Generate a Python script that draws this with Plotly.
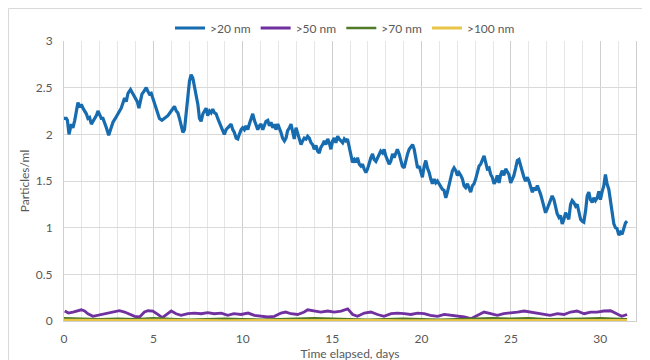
import plotly.graph_objects as go

# ---------------- data ----------------
days_20 = [
    0.00, 0.13, 0.19, 0.28, 0.41, 0.50, 0.60, 0.69, 0.78, 0.88, 0.97, 1.06, 1.15, 1.25, 1.34, 1.43,
    1.53, 1.62, 1.71, 1.81, 1.90, 1.99, 2.09, 2.18, 2.27, 2.37, 2.50, 2.61, 2.74, 2.87, 2.98, 3.11,
    3.20, 3.30, 3.39, 3.48, 3.58, 3.72, 3.85, 3.98, 4.10, 4.19, 4.28, 4.36, 4.47, 4.60, 4.69, 4.78,
    4.88, 4.99, 5.10, 5.21, 5.34, 5.48, 5.62, 5.81, 6.00,
    6.09, 6.18, 6.28, 6.37, 6.46, 6.55, 6.65, 6.74, 6.83, 6.93, 7.02, 7.11, 7.21, 7.30, 7.39, 7.49,
    7.58, 7.67, 7.77, 7.86, 7.95, 8.04, 8.14, 8.23, 8.32, 8.42, 8.51, 8.60, 8.70, 8.79, 8.88, 8.97,
    9.07, 9.16, 9.25, 9.35, 9.44, 9.53, 9.63, 9.72, 9.81, 9.91, 10.00, 10.09, 10.18, 10.28, 10.37,
    10.46, 10.56, 10.65, 10.74, 10.84, 10.93, 11.02, 11.12, 11.21, 11.30, 11.40, 11.49, 11.58, 11.68,
    11.77, 11.86, 11.96, 12.05, 12.14, 12.23, 12.33, 12.42, 12.51,
    12.61, 12.70, 12.79, 12.88, 12.98, 13.07, 13.16, 13.26, 13.35, 13.44, 13.54, 13.63, 13.72, 13.82,
    13.91, 14.00, 14.10, 14.19, 14.28, 14.37, 14.47, 14.56, 14.65, 14.75, 14.84, 14.93, 15.03, 15.12,
    15.21, 15.31, 15.40, 15.49, 15.59, 15.68, 15.77, 15.86, 15.96, 16.05, 16.14, 16.24, 16.33, 16.42,
    16.52, 16.61, 16.70, 16.79, 16.89, 16.98, 17.07, 17.17, 17.26, 17.35, 17.45, 17.54, 17.63, 17.72,
    17.82, 17.91, 18.00, 18.10, 18.19, 18.28, 18.38, 18.47, 18.56, 18.65, 18.75, 18.84, 18.93, 19.03,
    19.12,
    19.22, 19.31, 19.40, 19.50, 19.59, 19.68, 19.78, 19.87, 19.96, 20.05, 20.15, 20.24, 20.33, 20.43,
    20.52, 20.61, 20.71, 20.80, 20.89, 20.98, 21.08, 21.17, 21.26, 21.36, 21.45, 21.54, 21.64, 21.73,
    21.82, 21.92, 22.01, 22.10, 22.20, 22.29, 22.38, 22.47, 22.57, 22.66, 22.75, 22.85, 22.94, 23.03,
    23.13, 23.22, 23.31, 23.40, 23.50, 23.59, 23.68, 23.78, 23.87, 23.96, 24.06, 24.15, 24.24, 24.34,
    24.43, 24.52, 24.61, 24.71, 24.80,
    24.89, 24.99, 25.08, 25.17, 25.27, 25.36, 25.45, 25.54, 25.64, 25.73, 25.82, 25.92, 26.01, 26.10,
    26.20, 26.29, 26.38, 26.48, 26.57, 26.66, 26.76, 26.85, 26.94, 27.03, 27.13, 27.22, 27.31, 27.41,
    27.50, 27.59, 27.69, 27.78, 27.87, 27.97, 28.06, 28.15, 28.24, 28.34, 28.43, 28.52, 28.62, 28.71,
    28.80, 28.90, 28.99, 29.08, 29.18, 29.27, 29.36, 29.45, 29.55, 29.64, 29.73, 29.83, 29.92, 30.01,
    30.11, 30.20, 30.29, 30.38, 30.48, 30.57, 30.66, 30.76, 30.85, 30.94, 31.04, 31.13, 31.22, 31.32,
    31.41, 31.50,
]
vals_20 = [
    2.17, 2.17, 2.15, 2.00, 2.11, 2.07, 2.15, 2.25, 2.34, 2.29, 2.32, 2.28, 2.25, 2.22, 2.17, 2.18,
    2.11, 2.14, 2.18, 2.20, 2.25, 2.20, 2.17, 2.17, 2.13, 2.07, 1.99, 2.05, 2.13, 2.17, 2.20, 2.25,
    2.28, 2.35, 2.39, 2.35, 2.44, 2.48, 2.44, 2.40, 2.35, 2.28, 2.35, 2.43, 2.46, 2.50, 2.46, 2.43,
    2.44, 2.37, 2.32, 2.25, 2.17, 2.15, 2.17, 2.20, 2.25,
    2.28, 2.30, 2.25, 2.23, 2.17, 2.08, 2.02, 2.05, 2.22, 2.46, 2.57, 2.64, 2.60, 2.51, 2.43, 2.32,
    2.17, 2.14, 2.22, 2.25, 2.28, 2.20, 2.25, 2.23, 2.27, 2.23, 2.22, 2.17, 2.13, 2.09, 2.04, 2.00,
    2.05, 2.07, 2.09, 2.11, 2.05, 2.02, 1.96, 1.95, 2.00, 2.05, 2.07, 2.05, 2.09, 2.05, 2.11,
    2.17, 2.22, 2.15, 2.09, 2.05, 2.09, 2.11, 2.05, 2.11, 2.14, 2.15, 2.09, 2.13, 2.07,
    2.11, 2.05, 2.11, 2.07, 2.02, 1.96, 1.93, 1.96, 2.04,
    2.07, 2.11, 2.03, 1.95, 2.07, 2.02, 1.95, 1.89, 1.93, 1.96, 1.95, 1.98, 1.96, 1.91,
    1.89, 1.84, 1.88, 1.82, 1.80, 1.86, 1.89, 1.93, 1.89, 1.95, 1.91, 1.84, 1.93, 1.96,
    1.91, 1.98, 1.95, 1.93, 1.91, 1.95, 1.93, 1.95, 1.86, 1.75, 1.70, 1.73, 1.70, 1.75,
    1.68, 1.66, 1.68, 1.63, 1.59, 1.63, 1.70, 1.75, 1.79, 1.73, 1.71, 1.75, 1.80, 1.82,
    1.80, 1.84, 1.77, 1.71, 1.68, 1.71, 1.79, 1.75, 1.80, 1.84, 1.79, 1.71, 1.66, 1.64,
    1.73,
    1.79, 1.84, 1.87, 1.89, 1.84, 1.72, 1.64, 1.66, 1.61, 1.54, 1.66, 1.72, 1.64, 1.59,
    1.52, 1.47, 1.52, 1.48, 1.50, 1.47, 1.45, 1.41, 1.40, 1.32, 1.38, 1.45, 1.54, 1.61,
    1.64, 1.61, 1.56, 1.59, 1.56, 1.52, 1.45, 1.43, 1.47, 1.41, 1.38, 1.45, 1.47, 1.52,
    1.61, 1.66, 1.68, 1.73, 1.77, 1.70, 1.63, 1.64, 1.57, 1.54, 1.47, 1.50, 1.56, 1.48,
    1.57, 1.61, 1.56, 1.63, 1.59,
    1.57, 1.48, 1.52, 1.56, 1.64, 1.72, 1.73, 1.66, 1.59, 1.54, 1.50, 1.54, 1.50, 1.45,
    1.38, 1.43, 1.40, 1.45, 1.41, 1.36, 1.29, 1.23, 1.16, 1.20, 1.25, 1.30, 1.34, 1.30,
    1.22, 1.15, 1.11, 1.13, 1.04, 1.09, 1.16, 1.13, 1.09, 1.25, 1.29, 1.27, 1.23, 1.25,
    1.16, 1.09, 1.07, 1.06, 1.18, 1.34, 1.38, 1.30, 1.27, 1.32, 1.29, 1.32, 1.39, 1.30,
    1.39, 1.45, 1.57, 1.47, 1.41, 1.29, 1.15, 1.04, 1.00, 0.99, 0.92, 0.95, 0.93, 0.99,
    1.05, 1.07,
]

days_50 = [
    0.04, 0.25, 0.50, 0.78, 0.97, 1.15, 1.34, 1.62, 1.90, 2.18, 2.46, 2.83, 3.10, 3.39, 3.67, 3.95,
    4.23, 4.50, 4.70, 4.97, 5.25, 5.50, 5.80, 6.00, 6.27, 6.55, 6.93, 7.30, 7.67, 8.04, 8.40, 8.80,
    9.16, 9.50, 9.90, 10.30, 10.65, 11.00, 11.40, 11.77, 12.14, 12.40, 12.70, 13.07, 13.44, 13.63,
    14.00, 14.37, 14.75, 15.12, 15.50, 15.87, 16.15, 16.42, 16.80, 17.17, 17.54, 17.90, 18.30, 18.66,
    19.03, 19.40, 19.78, 20.15, 20.50, 20.90, 21.27, 21.64, 22.00, 22.40, 22.76, 23.13, 23.50, 23.87,
    24.24, 24.60, 25.00, 25.37, 25.74, 26.10, 26.50, 26.85, 27.20, 27.60, 27.97, 28.34, 28.70, 29.10,
    29.46, 29.83, 30.20, 30.58, 30.95, 31.20, 31.50,
]
vals_50 = [
    0.107, 0.085, 0.096, 0.110, 0.120, 0.107, 0.078, 0.050, 0.060, 0.070, 0.085, 0.100, 0.110, 0.096, 0.070, 0.050,
    0.043, 0.096, 0.110, 0.107, 0.070, 0.035, 0.078, 0.107, 0.078, 0.060, 0.078, 0.085, 0.078, 0.090, 0.078, 0.085,
    0.060, 0.078, 0.070, 0.085, 0.060, 0.050, 0.043, 0.050, 0.085, 0.096, 0.078, 0.070, 0.096, 0.120,
    0.107, 0.096, 0.107, 0.096, 0.107, 0.130, 0.070, 0.050, 0.085, 0.096, 0.070, 0.050, 0.078, 0.085,
    0.078, 0.070, 0.085, 0.078, 0.060, 0.050, 0.070, 0.060, 0.050, 0.043, 0.025, 0.060, 0.096, 0.078,
    0.060, 0.078, 0.085, 0.096, 0.107, 0.096, 0.085, 0.070, 0.060, 0.078, 0.070, 0.096, 0.107, 0.078,
    0.096, 0.096, 0.107, 0.110, 0.078, 0.050, 0.070,
]

days_70 = [0, 1, 2, 3, 4, 5, 6, 7, 8, 9, 10, 11, 12, 13, 14, 15, 16, 17, 18, 19, 20, 21, 22, 23,
           24, 25, 26, 27, 28, 29, 30, 31, 31.5]
vals_70 = [0.030, 0.025, 0.020, 0.025, 0.020, 0.030, 0.020, 0.015, 0.020, 0.025, 0.020, 0.015,
           0.020, 0.025, 0.030, 0.025, 0.020, 0.015, 0.020, 0.025, 0.020, 0.015, 0.020, 0.025,
           0.030, 0.025, 0.030, 0.020, 0.020, 0.025, 0.030, 0.025, 0.020]

days_100 = [0, 1, 2, 3, 4, 5, 6, 7, 8, 9, 10, 11, 12, 13, 14, 15, 16, 17, 18, 19, 20, 21, 22, 23,
            24, 25, 26, 27, 28, 29, 30, 31, 31.5]
vals_100 = [0.008, 0.006, 0.005, 0.007, 0.006, 0.008, 0.005, 0.006, 0.007, 0.005, 0.006, 0.007,
            0.005, 0.006, 0.008, 0.006, 0.005, 0.007, 0.006, 0.005, 0.006, 0.005, 0.007, 0.006,
            0.005, 0.007, 0.006, 0.005, 0.006, 0.007, 0.006, 0.005, 0.006]

series_names = [">20 nm", ">50 nm", ">70 nm", ">100 nm"]
x_ticks = [0, 5, 10, 15, 20, 25, 30]
y_ticks = [0, 0.5, 1, 1.5, 2, 2.5, 3]
y_tick_text = ["0", "0.5", "1", "1.5", "2", "2.5", "3"]

# ---------------- figure ----------------
FONT = "Lato, 'Open Sans', sans-serif"
TXT = "#595959"
colors = ["#176cb0", "#7030a0", "#4f7a28", "#e8c548"]
widths = [3.2, 2.8, 2.4, 2.8]

fig = go.Figure()
for name, xs, ys, c, w in zip(series_names,
                              [days_20, days_50, days_70, days_100],
                              [vals_20, vals_50, vals_70, vals_100], colors, widths):
    fig.add_trace(go.Scatter(x=xs, y=ys, mode="lines", name=name,
                             line=dict(color=c, width=w), hoverinfo="skip"))

fig.update_layout(
    width=650, height=360,
    margin=dict(l=56, r=22, t=33, b=47, autoexpand=False),
    paper_bgcolor="white", plot_bgcolor="white",
    font=dict(family=FONT, size=12, color=TXT),
    showlegend=True,
    legend=dict(orientation="h", x=(162 - 56) / 572, xanchor="left", y=1 + (33 - 20) / 280,
                yanchor="middle", font=dict(size=12, color=TXT),
                bgcolor="rgba(0,0,0,0)", traceorder="normal", itemwidth=30),
    shapes=[dict(type="rect", xref="paper", yref="paper",
                 x0=(0.5 - 56) / 572, x1=(649.5 - 56) / 572,
                 y0=(313 - 359.5) / 280, y1=(313 - 0.5) / 280,
                 line=dict(color="#d9d9d9", width=1), fillcolor="rgba(0,0,0,0)", layer="below")],
)

fig.update_xaxes(
    range=[0, 32], tickvals=x_ticks, ticktext=[str(t) for t in x_ticks],
    showgrid=True, gridcolor="#cfcfcf", gridwidth=1,
    minor=dict(dtick=1, showgrid=True, gridcolor="#e6e6e6", gridwidth=1),
    zeroline=False, showline=True, linecolor="#d0d0d0", linewidth=1,
    ticks="outside", ticklen=7, tickcolor="rgba(0,0,0,0)",
    tickfont=dict(size=12, color=TXT), automargin=False,
    title=dict(text="Time elapsed, days", font=dict(size=12, color=TXT), standoff=1),
)
fig.update_yaxes(
    range=[0, 3], tickvals=y_ticks, ticktext=y_tick_text,
    showgrid=True, gridcolor="#d9d9d9", gridwidth=1,
    zeroline=False, showline=True, linecolor="#cfcfcf", linewidth=1, mirror=True,
    ticks="outside", ticklen=8, tickcolor="rgba(0,0,0,0)",
    tickfont=dict(size=12, color=TXT), automargin=False,
    title=dict(text="Particles/ml", font=dict(size=12, color=TXT), standoff=3),
)

fig.write_html("out.html")
